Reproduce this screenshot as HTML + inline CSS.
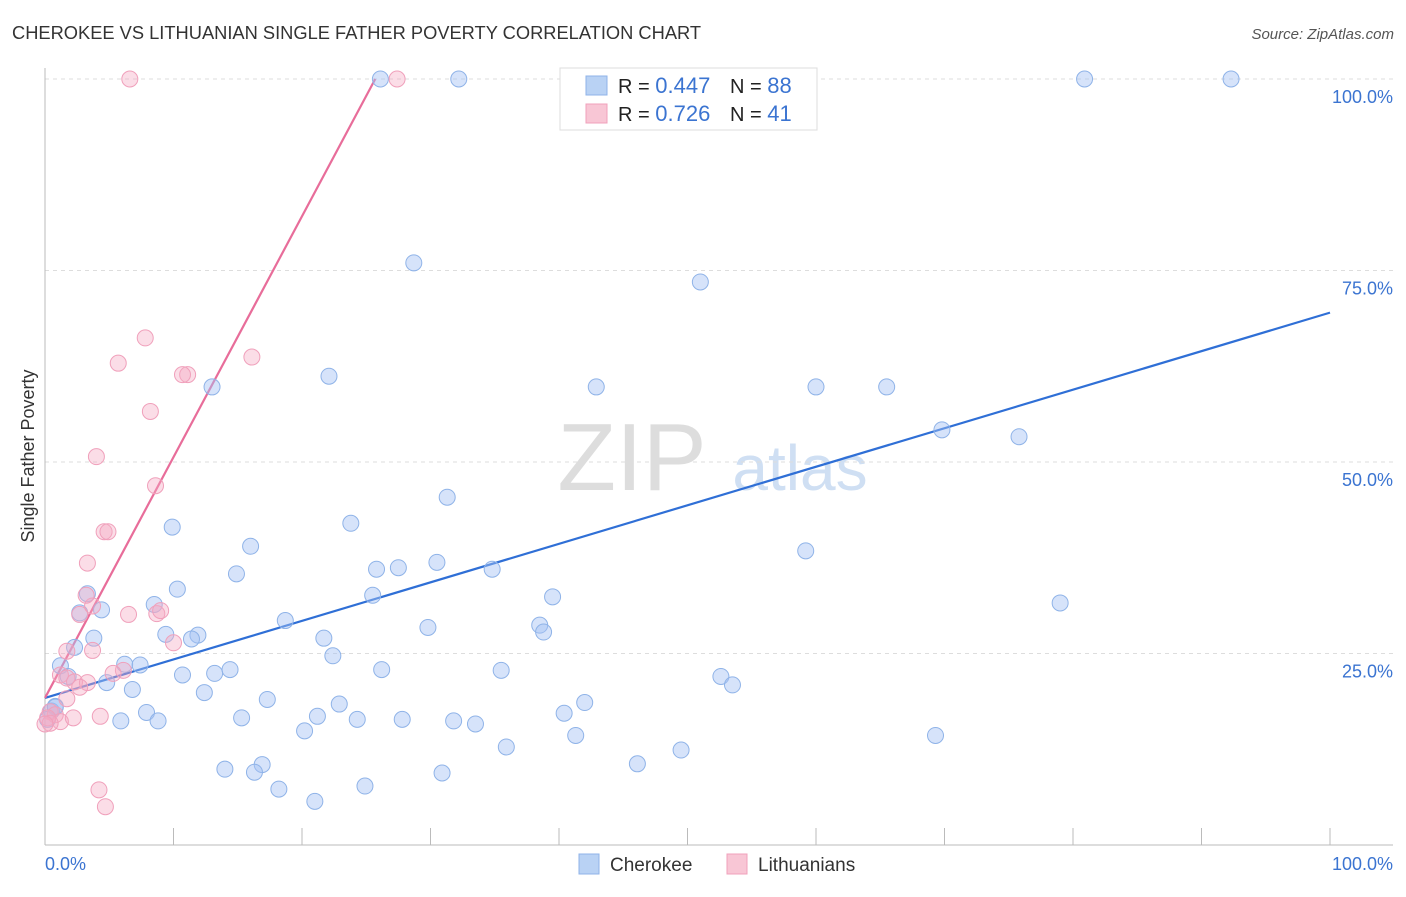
<!DOCTYPE html>
<html><head><meta charset="utf-8"><style>
body{margin:0;background:#fff;font-family:"Liberation Sans",sans-serif;}
svg text{font-family:"Liberation Sans",sans-serif;}
</style></head><body>
<svg id="chart" width="1406" height="892">
<text x="12" y="39" font-size="18.3" fill="#333">CHEROKEE VS LITHUANIAN SINGLE FATHER POVERTY CORRELATION CHART</text>
<text x="1394" y="39" font-size="15" fill="#555" font-style="italic" text-anchor="end">Source: ZipAtlas.com</text>
<text x="34" y="456" font-size="18" fill="#333" text-anchor="middle" transform="rotate(-90 34 456)">Single Father Poverty</text>
<g><text x="632" y="490" font-size="96" fill="#ddd" font-family="Liberation Serif" text-anchor="middle">ZIP</text><text x="800" y="490" font-size="64" fill="#cfdff3" text-anchor="middle">atlas</text></g>
<g id="grid"></g><g id="axes"></g><g id="lines"></g><g id="pts"></g>
<g>
<rect x="560" y="68" width="257" height="62" fill="#fff" stroke="#ddd"/>
<rect x="586" y="76" width="21" height="19" fill="#b9d2f4" stroke="#8fb3e8"/>
<rect x="586" y="104" width="21" height="19" fill="#f8c6d5" stroke="#f0a0bb"/>
<text x="618" y="93" font-size="20" fill="#222">R = <tspan fill="#3b74d1" font-size="22">0.447</tspan></text>
<text x="730" y="93" font-size="20" fill="#222">N = <tspan fill="#3b74d1" font-size="22">88</tspan></text>
<text x="618" y="121" font-size="20" fill="#222">R = <tspan fill="#3b74d1" font-size="22"> 0.726</tspan></text>
<text x="730" y="121" font-size="20" fill="#222">N = <tspan fill="#3b74d1" font-size="22"> 41</tspan></text>
</g>
<g>
<rect x="579" y="854" width="20" height="20" fill="#b9d2f4" stroke="#8fb3e8"/>
<text x="610" y="871" font-size="19" fill="#333">Cherokee</text>
<rect x="727" y="854" width="20" height="20" fill="#f8c6d5" stroke="#f0a0bb"/>
<text x="758" y="871" font-size="19" fill="#333">Lithuanians</text>
</g>
</svg>
<script>
const yTicks=[25,50,75,100];
const yTickLabels=["25.0%","50.0%","75.0%","100.0%"];
const xTicks=[0,10,20,30,40,50,60,70,80,90,100];
const cherokeeX=[26.1,32.2,51.9,80.9,92.3,47.3,28.7,51,22.1,13,42.9,60,65.5,69.8,75.8,31.3,23.8,9.9,16,30.5,27.5,59.2,14.9,25.8,34.8,10.3,25.5,39.5,79,3.3,4.4,8.5,18.7,2.7,29.8,38.5,38.8,9.4,11.9,11.4,21.7,3.8,2.3,22.4,1.2,6.2,7.4,14.4,13.2,26.2,35.5,10.7,1.8,52.6,53.5,4.8,6.8,12.4,17.3,42,0.8,0.5,7.9,22.9,40.4,21.2,27.8,15.3,24.3,5.9,8.8,31.8,33.5,20.2,41.3,69.3,35.9,49.5,16.9,14,16.3,46.1,30.9,18.2,24.9,21,0.8,0.2];
const cherokeeY=[100,100,100,100,100,97.3,76,73.5,61.2,59.8,59.8,59.8,59.8,54.2,53.3,45.4,42,41.5,39,36.9,36.2,38.4,35.4,36,36,33.4,32.6,32.4,31.6,32.8,30.7,31.4,29.3,30.3,28.4,28.7,27.8,27.5,27.4,26.9,27,27,25.8,24.7,23.4,23.6,23.5,22.9,22.4,22.9,22.8,22.2,22,22,20.9,21.2,20.3,19.9,19,18.6,18.1,17.5,17.3,18.4,17.2,16.8,16.4,16.6,16.4,16.2,16.2,16.2,15.8,14.9,14.3,14.3,12.8,12.4,10.5,9.9,9.5,10.6,9.4,7.3,7.7,5.7,18,16.4];
const lithX=[6.6,27.4,7.8,5.7,11.1,10.7,16.1,8.2,4,8.6,4.6,4.9,3.3,2.7,3.7,3.2,6.5,8.7,9,10.0,3.7,1.7,1.2,1.7,2.3,3.3,2.7,6.1,5.3,1.7,0.4,0.8,1.2,0.2,2.2,4.3,4.2,4.7,0.4,0];
const lithY=[100,100,66.2,62.9,61.4,61.4,63.7,56.6,50.7,46.9,40.9,40.9,36.8,30.1,31.2,32.6,30.1,30.2,30.6,26.4,25.4,25.3,22.2,21.8,21.3,21.2,20.6,22.8,22.4,19.1,17.4,17,16.1,16.6,16.6,16.8,7.2,5,15.9,15.8];
const cherokeeTrend=[19.2,69.5];
const lithTrendStart=19.2, lithTrendEndX=25.7;
const NS="http://www.w3.org/2000/svg";
const X=v=>45+v*12.85, Y=v=>845-v*7.66;
function mk(t,a,p){const e=document.createElementNS(NS,t);for(const k in a)e.setAttribute(k,a[k]);p.appendChild(e);return e;}
const grid=document.getElementById('grid'),axes=document.getElementById('axes'),lines=document.getElementById('lines'),pts=document.getElementById('pts');
yTicks.forEach((t,i)=>{
 const l=mk('line',{x1:45,x2:1393,y1:Y(t),y2:Y(t),stroke:'#ddd','stroke-dasharray':'4,4'},grid);
 
 
 const tx=mk('text',{x:1393,y:Y(t)+24,'font-size':18,fill:'#3b74d1','text-anchor':'end'},axes);
 tx.textContent=yTickLabels[i];
 
 
});
const ax=mk('line',{x1:45,x2:1393,y1:845,y2:845,stroke:'#bbb'},axes);


const ay=mk('line',{x1:45,x2:45,y1:68,y2:845,stroke:'#bbb'},axes);


xTicks.forEach(t=>{
 const l=mk('line',{x1:X(t),x2:X(t),y1:828,y2:845,stroke:'#bbb'},axes);
 
 
});
let t0=mk('text',{x:45,y:870,'font-size':18,fill:'#3b74d1'},axes);t0.textContent='0.0%';


let t1=mk('text',{x:1393,y:870,'font-size':18,fill:'#3b74d1','text-anchor':'end'},axes);t1.textContent='100.0%';


cherokeeX.forEach((x,i)=>{
 const c=mk('circle',{cx:X(x),cy:Y(cherokeeY[i]),r:8,fill:'rgba(164,194,244,0.45)',stroke:'#8fb3e8'},pts);
 
 
});
lithX.forEach((x,i)=>{
 const c=mk('circle',{cx:X(x),cy:Y(lithY[i]),r:8,fill:'rgba(244,170,195,0.4)',stroke:'#f0a0bb'},pts);
 
 
});
const bl=mk('line',{x1:X(0),y1:Y(cherokeeTrend[0]),x2:X(100),y2:Y(cherokeeTrend[1]),stroke:'#2f6fd6','stroke-width':2.2},lines);


const pl=mk('line',{x1:X(0),y1:Y(lithTrendStart),x2:X(lithTrendEndX),y2:Y(100),stroke:'#e86d9a','stroke-width':2.2},lines);


</script>
</body></html>
